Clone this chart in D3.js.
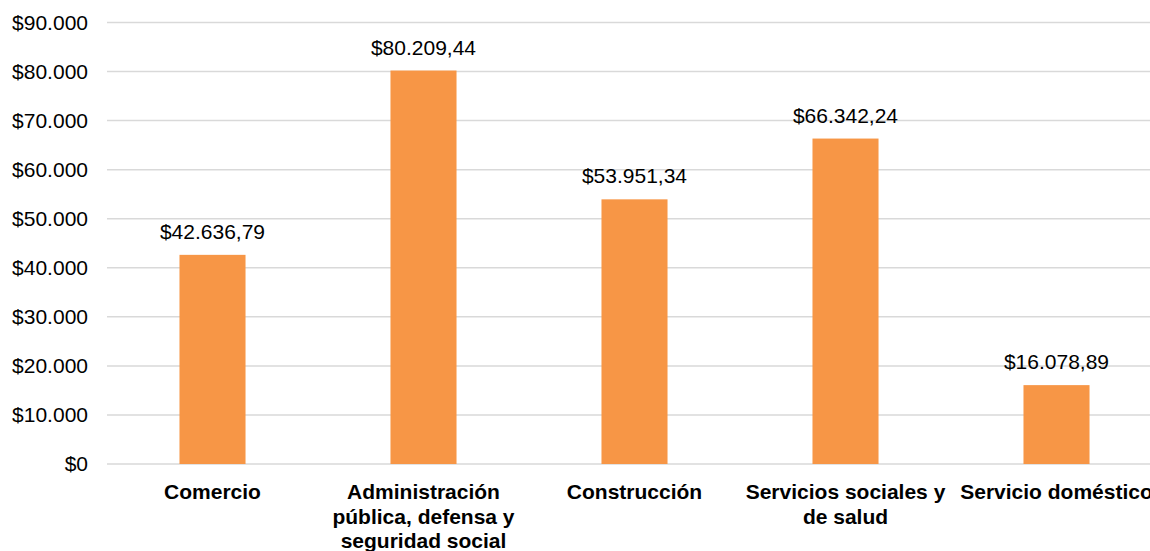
<!DOCTYPE html>
<html>
<head>
<meta charset="utf-8">
<script src="https://cdn.jsdelivr.net/npm/d3@7"></script>
<style>
  html, body { margin: 0; padding: 0; background: #fff; }
  svg { display: block; font-family: "Liberation Sans", Arial, Helvetica, sans-serif; }
</style>
</head>
<body>
<svg id="chart" width="1150" height="551"></svg>
<script>
const categories = [
  ["Comercio"],
  ["Administración", "pública, defensa y", "seguridad social"],
  ["Construcción"],
  ["Servicios sociales y", "de salud"],
  ["Servicio doméstico"]
];
const values = [42636.79, 80209.44, 53951.34, 66342.24, 16078.89];
const yTicks = [0, 10000, 20000, 30000, 40000, 50000, 60000, 70000, 80000, 90000];

(function () {
const W = 1150, H = 551;
const mLeft = 107, mRight = 1162, mTop = 22.5, mBottom = 464;
const FS = 21;

const loc = d3.formatLocale({decimal: ",", thousands: ".", grouping: [3], currency: ["$", ""]});
const fTick = loc.format("$,.0f");
const fVal = loc.format("$,.2f");

const svg = d3.select("#chart");
const ids = d3.range(values.length);

const x = d3.scaleBand().domain(ids).range([mLeft, mRight]).paddingInner(0.687).paddingOuter(0.3435);
const y = d3.scaleLinear().domain([0, 90000]).range([mBottom, mTop]);

// gridlines
svg.append("g").selectAll("line").data(yTicks).join("line")
  .attr("x1", mLeft).attr("x2", W)
  .attr("y1", d => y(d)).attr("y2", d => y(d))
  .attr("stroke", "#d9d9d9").attr("stroke-width", 1.5);

// y labels
svg.append("g").selectAll("text").data(yTicks).join("text")
  .attr("x", 88).attr("y", d => y(d))
  .attr("dy", "0.35em")
  .attr("text-anchor", "end")
  .attr("font-size", FS)
  .attr("fill", "#000")
  .text(d => fTick(d));

// bars
svg.append("g").selectAll("rect").data(ids).join("rect")
  .attr("x", i => x(i)).attr("width", x.bandwidth())
  .attr("y", i => y(values[i])).attr("height", i => y(0) - y(values[i]))
  .attr("fill", "#F79646");

// value labels
svg.append("g").selectAll("text").data(ids).join("text")
  .attr("x", i => x(i) + x.bandwidth() / 2)
  .attr("y", i => y(values[i]) - 16)
  .attr("text-anchor", "middle")
  .attr("font-size", FS)
  .attr("fill", "#000")
  .text(i => fVal(values[i]));

// category labels
const cat = svg.append("g").selectAll("text").data(ids).join("text")
  .attr("x", i => x(i) + x.bandwidth() / 2)
  .attr("y", 499)
  .attr("text-anchor", "middle")
  .attr("font-size", FS)
  .attr("font-weight", "bold")
  .attr("fill", "#000");
cat.each(function(i) {
  const t = d3.select(this);
  categories[i].forEach((line, k) => {
    t.append("tspan").attr("x", x(i) + x.bandwidth() / 2).attr("y", 499 + k * 24.5).text(line);
  });
});
})();
</script>
</body>
</html>
